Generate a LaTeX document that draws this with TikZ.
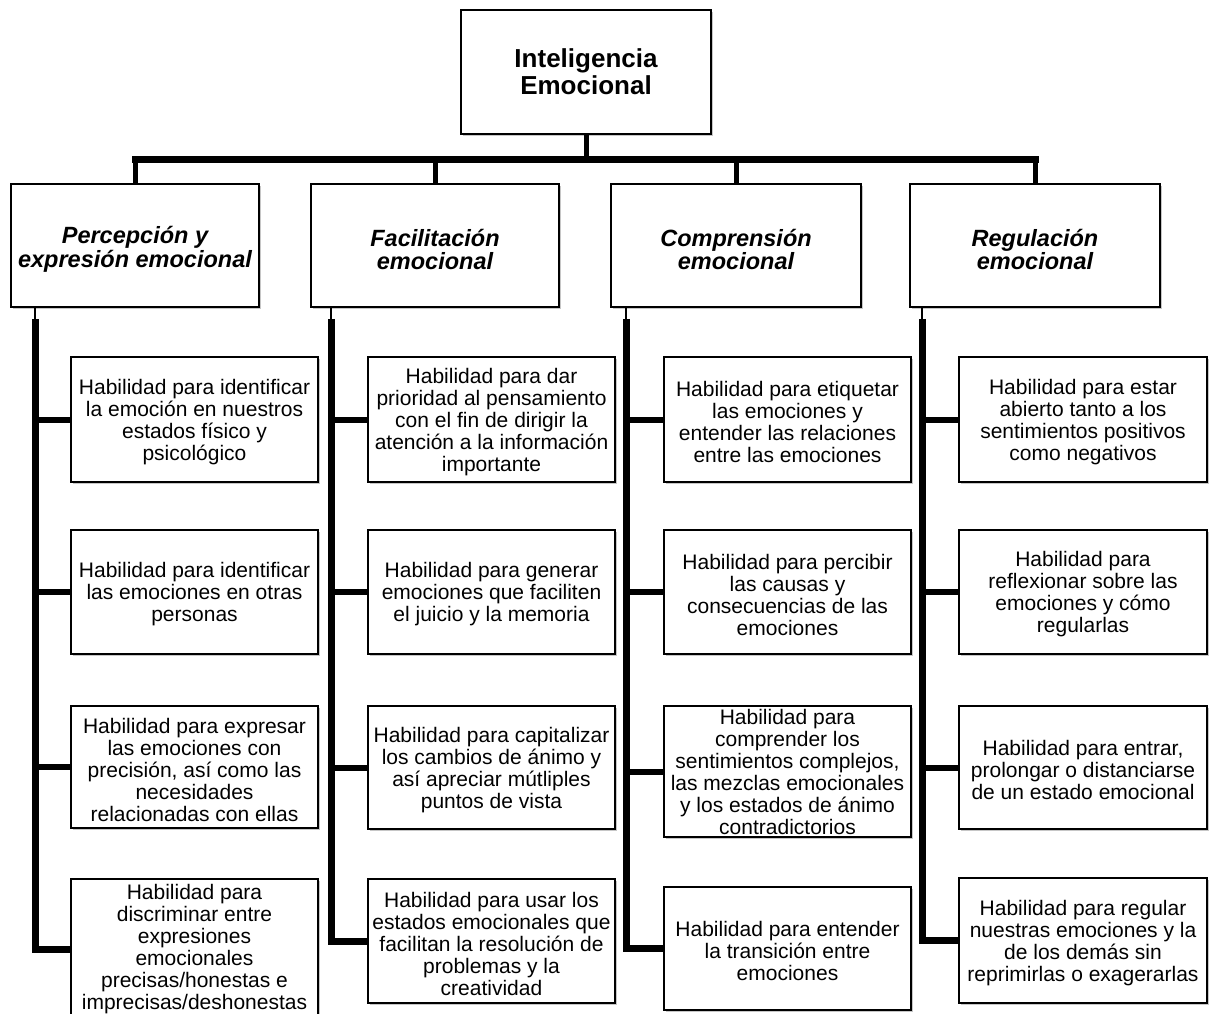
\documentclass[tikz,border=0pt]{standalone}
\usepackage{fontspec}
\setmainfont{Liberation Sans}
\usetikzlibrary{shadows}
\begin{document}
\begin{tikzpicture}[x=1pt,y=-1pt,
  box/.style={draw=black, line width=1.6pt, fill=white, inner sep=0pt,
    drop shadow={shadow xshift=1.8pt, shadow yshift=-1.8pt, fill=black!50, opacity=0.45}},
  titlebox/.style={box, minimum width=250pt, minimum height=124pt, align=center,
    font=\fontsize{26}{27}\bfseries\selectfont},
  headbox/.style={box, minimum width=248pt, minimum height=123pt},
  headtext/.style={align=center, inner sep=0pt, yshift=-4pt,
    font=\fontsize{23.5}{23.5}\bfseries\itshape\selectfont},
  skillbox/.style={box, minimum width=247pt},
  skilltext/.style={align=center, inner sep=0pt, yshift=-2.5pt,
    font=\fontsize{21}{22}\selectfont},
  head/.style={headbox, label={[headtext]center:{#1}}},
  skill/.style={skillbox, label={[skilltext]center:{#1}}},
  tallskill/.style={skillbox, label={[skilltext, yshift=2.5pt]center:{#1}}},
  drop/.style={line width=5pt},
  barline/.style={line width=7pt, line cap=rect},
  joint/.style={line width=2pt},
  spine/.style={line width=7pt},
  stub/.style={line width=6pt}]
\useasboundingbox (0,0) rectangle (1209,1013);

% root
\node[titlebox] (top) at (586,72) {Inteligencia\\Emocional};

% branches
\node[head={Percepción y\\expresión emocional}] (p1) at (135,245.5) {};
\node[head={Facilitación\\emocional}] (p2) at (435,245.5) {};
\node[head={Comprensión\\emocional}, minimum width=250pt] (p3) at (736,245.5) {};
\node[head={Regulación\\emocional}, minimum width=250pt] (p4) at (1035,245.5) {};

% column 1
\node[skill={Habilidad para identificar\\la emoción en nuestros\\estados físico y\\psicológico}, minimum height=125pt] (c11) at (194.5,419.5) {};
\node[skill={Habilidad para identificar\\las emociones en otras\\personas}, minimum height=124pt] (c12) at (194.5,592) {};
\node[skill={Habilidad para expresar\\las emociones con\\precisión, así como las\\necesidades\\relacionadas con ellas}, minimum height=122pt] (c13) at (194.5,767) {};
\node[tallskill={Habilidad para\\discriminar entre\\expresiones\\emocionales\\precisas/honestas e\\imprecisas/deshonestas}, minimum height=140pt] (c14) at (194.5,949) {};

% column 2
\node[skill={Habilidad para dar\\prioridad al pensamiento\\con el fin de dirigir la\\atención a la información\\importante}, minimum height=125pt] (c21) at (491.5,419.5) {};
\node[skill={Habilidad para generar\\emociones que faciliten\\el juicio y la memoria}, minimum height=124pt] (c22) at (491.5,592) {};
\node[skill={Habilidad para capitalizar\\los cambios de ánimo y\\así apreciar mútliples\\puntos de vista}, minimum height=123pt] (c23) at (491.5,767.5) {};
\node[skill={Habilidad para usar los\\estados emocionales que\\facilitan la resolución de\\problemas y la\\creatividad}, minimum height=124pt] (c24) at (491.5,941) {};

% column 3
\node[skill={Habilidad para etiquetar\\las emociones y\\entender las relaciones\\entre las emociones}, minimum height=125pt] (c31) at (787.5,419.5) {};
\node[skill={Habilidad para percibir\\las causas y\\consecuencias de las\\emociones}, minimum height=124pt] (c32) at (787.5,592) {};
\node[tallskill={Habilidad para\\comprender los\\sentimientos complejos,\\las mezclas emocionales\\y los estados de ánimo\\contradictorios}, minimum height=131pt] (c33) at (787.5,771.5) {};
\node[skill={Habilidad para entender\\la transición entre\\emociones}, minimum height=123pt] (c34) at (787.5,948.5) {};

% column 4
\node[skill={Habilidad para estar\\abierto tanto a los\\sentimientos positivos\\como negativos}, minimum width=248pt, minimum height=125pt] (c41) at (1083,419.5) {};
\node[skill={Habilidad para\\reflexionar sobre las\\emociones y cómo\\regularlas}, minimum width=248pt, minimum height=124pt] (c42) at (1083,592) {};
\node[skill={Habilidad para entrar,\\prolongar o distanciarse\\de un estado emocional}, minimum width=248pt, minimum height=123pt] (c43) at (1083,767.5) {};
\node[skill={Habilidad para regular\\nuestras emociones y la\\de los demás sin\\reprimirlas o exagerarlas}, minimum width=248pt, minimum height=125pt] (c44) at (1083,940.5) {};

% root to branches
\coordinate (bar) at (0,159);
\draw[drop] (top.south) -- (top.south |- bar);
\draw[barline] (p1.north |- bar) -- (p4.north |- bar);
\foreach \p in {p1,p2,p3,p4}
  \draw[drop] (\p.north |- bar) -- (\p.north);

% spines of each branch
\coordinate (s1) at ([xshift=25pt]p1.south west);
\coordinate (s2) at ([xshift=21pt]p2.south west);
\coordinate (s3) at ([xshift=16pt]p3.south west);
\coordinate (s4) at ([xshift=13pt]p4.south west);
\foreach \s in {1,2,3,4}{
  \coordinate (t\s) at ([yshift=-11pt]s\s);
  \draw[joint] (s\s) -- (t\s);
  \draw[spine] (t\s) |- (c\s4.west);
  \foreach \r in {1,2,3}
    \draw[stub] (c\s\r.west) -- (c\s\r.west -| t\s);
}
\end{tikzpicture}
\end{document}
